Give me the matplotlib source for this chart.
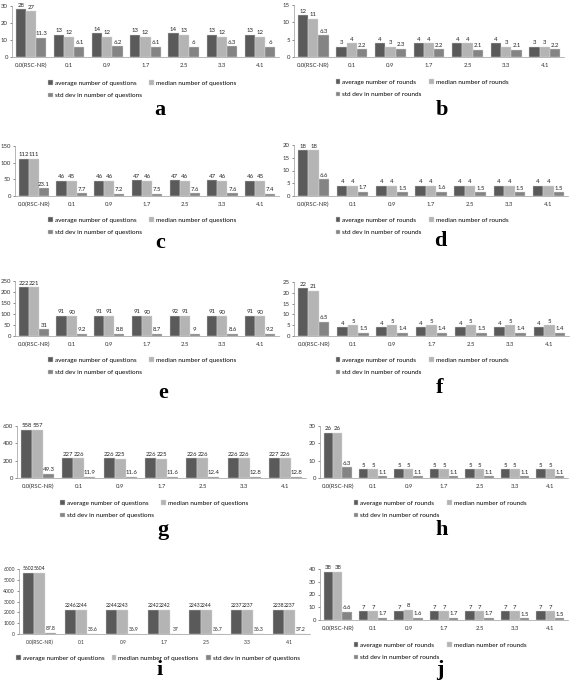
import matplotlib.pyplot as plt
import numpy as np

plt.rcParams['font.family'] = ['Lato', 'DejaVu Sans']

W, H = 571, 681
categories = ['0.0(RSC-NR)', '0.1', '0.9', '1.7', '2.5', '3.3', '4.1']

# questions panels (a, c, e, g, i)
avg_a = [28, 13, 14, 13, 14, 13, 13]
med_a = [27, 12, 12, 12, 13, 12, 12]
std_a = [11.3, 6.1, 6.2, 6.1, 6, 6.3, 6]

avg_c = [112, 46, 46, 47, 47, 47, 46]
med_c = [111, 45, 46, 46, 46, 46, 45]
std_c = [23.1, 7.7, 7.2, 7.5, 7.6, 7.6, 7.4]

avg_e = [222, 91, 91, 91, 92, 91, 91]
med_e = [221, 90, 91, 90, 91, 90, 90]
std_e = [31, 9.2, 8.8, 8.7, 9, 8.6, 9.2]

avg_g = [558, 227, 226, 226, 226, 226, 227]
med_g = [557, 226, 225, 225, 226, 226, 226]
std_g = [49.3, 11.9, 11.6, 11.6, 12.4, 12.8, 12.8]

avg_i = [5602, 2246, 2244, 2242, 2243, 2237, 2238]
med_i = [5604, 2244, 2243, 2242, 2244, 2237, 2237]
std_i = [87.8, 35.6, 36.9, 37, 36.7, 36.3, 37.2]

# rounds panels (b, d, f, h, j)
avg_b = [12, 3, 4, 4, 4, 4, 3]
med_b = [11, 4, 3, 4, 4, 3, 3]
std_b = [6.3, 2.2, 2.3, 2.2, 2.1, 2.1, 2.2]

avg_d = [18, 4, 4, 4, 4, 4, 4]
med_d = [18, 4, 4, 4, 4, 4, 4]
std_d = [6.6, 1.7, 1.5, 1.6, 1.5, 1.5, 1.5]

avg_f = [22, 4, 4, 4, 4, 4, 4]
med_f = [21, 5, 5, 5, 5, 5, 5]
std_f = [6.5, 1.5, 1.4, 1.4, 1.5, 1.4, 1.4]

avg_h = [26, 5, 5, 5, 5, 5, 5]
med_h = [26, 5, 5, 5, 5, 5, 5]
std_h = [6.3, 1.1, 1.1, 1.1, 1.1, 1.1, 1.1]

avg_j = [38, 7, 7, 7, 7, 7, 7]
med_j = [38, 7, 8, 7, 7, 7, 7]
std_j = [6.6, 1.7, 1.6, 1.7, 1.7, 1.5, 1.5]

q_labels = ['average number of questions', 'median number of questions', 'std dev in number of questions']
r_labels = ['average number of rounds', 'median number of rounds', 'std dev in number of rounds']

colors = ['#5a5a5a', '#b4b4b4', '#848484']

fig = plt.figure(figsize=(W / 100, H / 100), dpi=100)
fig.patch.set_facecolor('white')


def fx(px):
    return px / W


def fy(py):
    return 1 - py / H


def draw_panel(letter, data, labels, ymax, ystep, box, leg, ltr, ncol=2, fs=4.3):
    # box = (x0, x1, ytop, ybot) in pixels
    x0, x1, ytop, ybot = box
    ax = fig.add_axes([fx(x0), fy(ybot), (x1 - x0) / W, (ybot - ytop) / H])
    x = np.arange(len(categories))
    w = 0.267
    bars = []
    for k, vals in enumerate(data):
        b = ax.bar(x + (k - 1) * w, vals, w, color=colors[k], edgecolor='#d8d8d8',
                   linewidth=0.3, label=labels[k])
        bars.append(b)
        for xi, v in zip(x + (k - 1) * w, vals):
            ax.text(xi, v + ymax * 0.03, '%g' % v, ha='center', va='bottom',
                    fontsize=fs, color='#222222')
    ax.set_xlim(-0.5, len(categories) - 0.5)
    ax.set_ylim(0, ymax)
    ax.set_yticks(np.arange(0, ymax + 1, ystep))
    ax.set_xticks(x)
    ax.set_xticklabels(categories)
    ax.tick_params(axis='both', labelsize=fs, colors='#333333', length=1.5, width=0.4, pad=1.5)
    ax.tick_params(axis='x', length=0, pad=4)
    for s in ['top', 'right']:
        ax.spines[s].set_visible(False)
    for s in ['left', 'bottom']:
        ax.spines[s].set_color('#9a9a9a')
        ax.spines[s].set_linewidth(0.5)
    ax.set_facecolor('none')

    if ncol == 2:
        handles = [bars[0], bars[2], bars[1]]
        lab = [labels[0], labels[2], labels[1]]
    else:
        handles, lab = bars, labels
    fig.legend(handles, lab, loc='upper center', bbox_to_anchor=(fx(leg[0]), fy(leg[1])),
               ncol=ncol, frameon=False, fontsize=4.6, handlelength=0.7, handleheight=0.7,
               handletextpad=0.3, columnspacing=1.2, labelspacing=1.1, borderpad=0)
    fig.text(fx(ltr[0]), fy(ltr[1]), letter, ha='center', va='center',
             fontsize=16, fontweight='bold', family='Liberation Serif')


draw_panel('a', [avg_a, med_a, std_a], q_labels, 30, 10, (12, 279, 6, 57), (142, 77), (160, 110))
draw_panel('b', [avg_b, med_b, std_b], r_labels, 15, 5, (294, 564, 5, 57), (422, 76), (442, 110))
draw_panel('c', [avg_c, med_c, std_c], q_labels, 150, 50, (15, 279, 146, 196), (142, 214), (160, 243))
draw_panel('d', [avg_d, med_d, std_d], r_labels, 20, 5, (294, 568, 145, 196), (422, 214), (440, 241))
draw_panel('e', [avg_e, med_e, std_e], q_labels, 250, 50, (15, 279, 281, 336), (142, 354), (163, 393))
draw_panel('f', [avg_f, med_f, std_f], r_labels, 25, 5, (294, 569, 282, 336), (422, 354), (440, 388))
draw_panel('g', [avg_g, med_g, std_g], q_labels, 600, 200, (17, 306, 426, 478), (154, 497), (163, 530))
draw_panel('h', [avg_h, med_h, std_h], r_labels, 30, 10, (320, 568, 426, 478), (440, 497), (442, 530))
draw_panel('i', [avg_i, med_i, std_i], q_labels, 6000, 1000, (19, 310, 569, 634), (158, 652), (160, 670),
           ncol=3, fs=3.6)
draw_panel('j', [avg_j, med_j, std_j], r_labels, 40, 10, (320, 568, 569, 620), (440, 639), (440, 670))

fig.savefig('out.png', dpi=100, facecolor='white')
